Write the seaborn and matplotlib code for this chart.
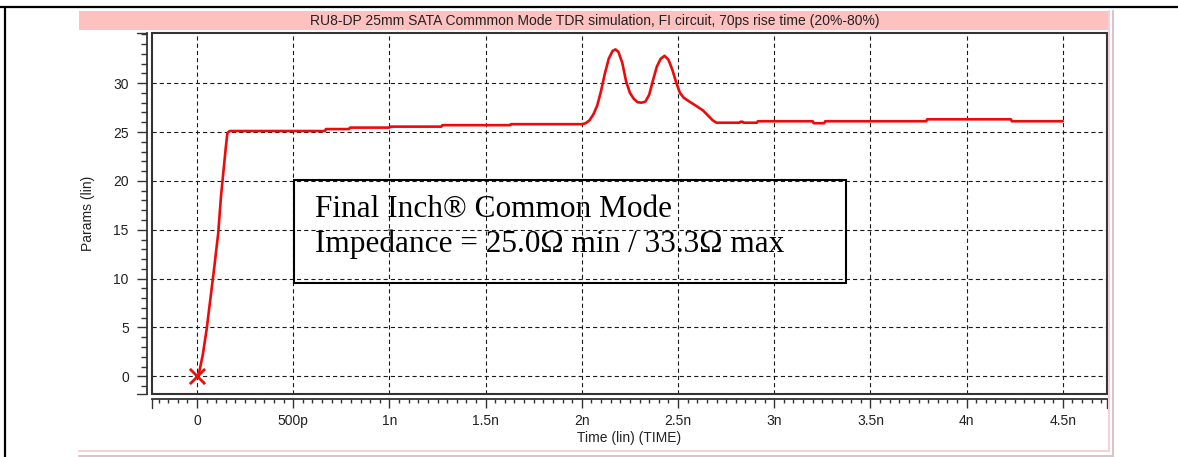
import matplotlib
matplotlib.use("Agg")
import matplotlib.pyplot as plt
import numpy as np
import pandas as pd
import seaborn as sns
from matplotlib.patches import Rectangle
from matplotlib.lines import Line2D
from matplotlib.ticker import FixedLocator, FixedFormatter, MultipleLocator

# ---------------- data ----------------
time_ns = [0.0, 0.01, 0.03, 0.05, 0.07, 0.09, 0.11, 0.125, 0.14, 0.15, 0.158, 0.17,
           0.665, 0.67, 0.79, 0.795, 1.0, 1.005, 1.27, 1.275, 1.627, 1.632, 2.0,
           2.02, 2.04, 2.06, 2.08, 2.10, 2.12, 2.14, 2.16, 2.175, 2.19, 2.21, 2.23,
           2.25, 2.27, 2.29, 2.31, 2.33, 2.35, 2.37, 2.39, 2.41, 2.43, 2.45, 2.47,
           2.49, 2.51, 2.53, 2.56, 2.60, 2.63, 2.66, 2.68, 2.70,
           2.82, 2.825, 2.835, 2.84, 2.91, 2.915, 3.20, 3.205, 3.26, 3.265, 3.79,
           3.795, 4.23, 4.235, 4.5]
params = [0.0, 0.3, 2.2, 4.8, 8.0, 11.2, 14.6, 18.5, 21.5, 23.5, 24.9, 25.1,
          25.1, 25.3, 25.3, 25.45, 25.45, 25.55, 25.55, 25.7, 25.7, 25.8, 25.8,
          25.9, 26.2, 26.8, 27.7, 29.2, 31.0, 32.5, 33.3, 33.45, 33.2, 32.1, 30.2,
          29.0, 28.4, 28.05, 28.0, 28.1, 28.8, 30.3, 31.7, 32.5, 32.8, 32.4, 31.4,
          30.1, 29.0, 28.5, 28.1, 27.6, 27.2, 26.6, 26.2, 25.95,
          25.95, 26.05, 26.05, 25.95, 25.95, 26.1, 26.1, 25.9, 25.9, 26.1, 26.1,
          26.3, 26.3, 26.1, 26.1]
marker_time = [0.0]
marker_value = [0.0]

x_ticks = [0, 0.5, 1.0, 1.5, 2.0, 2.5, 3.0, 3.5, 4.0, 4.5]
x_tick_labels = ["0", "500p", "1n", "1.5n", "2n", "2.5n", "3n", "3.5n", "4n", "4.5n"]
y_ticks = [0, 5, 10, 15, 20, 25, 30]
y_tick_labels = ["0", "5", "10", "15", "20", "25", "30"]

title = "RU8-DP 25mm SATA Commmon Mode TDR simulation, FI circuit, 70ps rise time (20%-80%)"
x_label = "Time (lin) (TIME)"
y_label = "Params (lin)"
note_lines = ["Final Inch\u00ae Common Mode", "Impedance = 25.0\u03a9 min / 33.3\u03a9 max"]

# ---------------- style ----------------
sns.set_style("ticks")
plt.rcParams["font.family"] = ["Liberation Sans", "DejaVu Sans"]
plt.rcParams["lines.scale_dashes"] = False

W, H = 1178, 457
fig = plt.figure(figsize=(W / 100, H / 100), dpi=100)
fig.patch.set_facecolor("white")

L, R, T, B = 151.7, 1106.7, 33.3, 394.3
ax = fig.add_axes([L / W, 1 - B / H, (R - L) / W, (B - T) / H])
ax.set_facecolor("white")

df = pd.DataFrame({"t": time_ns, "v": params})
sns.lineplot(data=df, x="t", y="v", ax=ax, color="#ec0a0a", linewidth=1.9,
             estimator=None, sort=False, zorder=5)
ax.scatter(marker_time, marker_value, marker="x", s=120, linewidths=2,
           color="#e81010", zorder=6, clip_on=False)

ax.set_xlim(-0.2355, 4.728)
ax.set_ylim(-1.84, 35.1)

ax.xaxis.set_major_locator(FixedLocator(x_ticks))
ax.xaxis.set_major_formatter(FixedFormatter(x_tick_labels))
ax.xaxis.set_minor_locator(MultipleLocator(0.05))
ax.yaxis.set_major_locator(FixedLocator(y_ticks))
ax.yaxis.set_major_formatter(FixedFormatter(y_tick_labels))
ax.yaxis.set_minor_locator(MultipleLocator(1))

axis_col = "#333333"
for s in ["top", "right"]:
    ax.spines[s].set_visible(False)
ax.spines["left"].set_position(("outward", 3.3))
ax.spines["bottom"].set_position(("outward", 3.3))
for s in ["left", "bottom"]:
    ax.spines[s].set_color(axis_col)
    ax.spines[s].set_linewidth(1.3)

ax.tick_params(axis="y", which="major", direction="out", length=7.2, width=1.0,
               color=axis_col, pad=6.0, labelsize=10, labelcolor="#222222")
ax.tick_params(axis="y", which="minor", direction="out", length=4.3, width=1.0,
               color=axis_col)
ax.tick_params(axis="x", which="major", direction="out", length=6.5, width=1.0,
               color=axis_col, pad=4.5, labelsize=10, labelcolor="#222222")
ax.tick_params(axis="x", which="minor", direction="out", length=3.0, width=1.0,
               color=axis_col)

ax.grid(True, which="major", color="#1a1a1a", linewidth=0.8, linestyle=(0, (3.0, 2.2)))
ax.set_axisbelow(True)

frame = Rectangle((0, 0), 1, 1, transform=ax.transAxes, fill=False,
                  edgecolor=axis_col, linewidth=1.5, clip_on=False, zorder=7)
ax.add_patch(frame)

ax.set_xlabel(x_label, fontsize=10, color="#222222", va="center")
ax.set_ylabel(y_label, fontsize=10, color="#222222", va="center")
ax.xaxis.set_label_coords(0.5, (B - 438.3) / (B - T))
ax.yaxis.set_label_coords((88 - L) / (R - L), 0.5)

# annotation box
bx0, bx1, by_top, by_bot = 294, 846, 180, 283
box = Rectangle(((bx0 - L) / (R - L), (B - by_bot) / (B - T)),
                (bx1 - bx0) / (R - L), (by_bot - by_top) / (B - T),
                transform=ax.transAxes, fill=False, edgecolor="black",
                linewidth=1.5, zorder=8)
ax.add_patch(box)
for txt, base in zip(note_lines, [216.7, 252.3]):
    ax.text((315 - L) / (R - L), (B - base) / (B - T), txt, transform=ax.transAxes,
            ha="left", va="baseline", fontsize=22.5,
            family=["Liberation Serif", "DejaVu Serif"], color="black", zorder=9)

# axis end caps
def figline(xs, ys, **kw):
    fig.add_artist(Line2D([x / W for x in xs], [1 - y / H for y in ys],
                          transform=fig.transFigure, **kw))

for xe in (L, R):
    figline([xe, xe], [398.8, 408.3], color=axis_col, lw=1.0)
for ye in (T, B):
    figline([137.0, 147.3], [ye, ye], color=axis_col, lw=1.0)

# window decoration
fig.add_artist(Rectangle((79 / W, 1 - 30 / H), (1110 - 79) / W, 19 / H,
                         transform=fig.transFigure, facecolor="#ffc0c0",
                         edgecolor="none", zorder=0))
fig.text(595 / W, 1 - 21 / H, title, ha="center", va="center", fontsize=10,
         color="#222222")
figline([1109, 1109], [11, 451], color="#f2d2d8", lw=1.5)
figline([1112.5, 1112.5], [11, 456], color="#d8c4cc", lw=1.5)
figline([79, 1109], [451, 451], color="#f2d2d8", lw=1.5)
figline([79, 1112.5], [456, 456], color="#d8c4cc", lw=1.5)

# outer page frame
figline([0, W], [6.5, 6.5], color="black", lw=1.6)
figline([5, 5], [6.5, H], color="black", lw=1.6)

fig.savefig("out.png", dpi=100, facecolor="white")
